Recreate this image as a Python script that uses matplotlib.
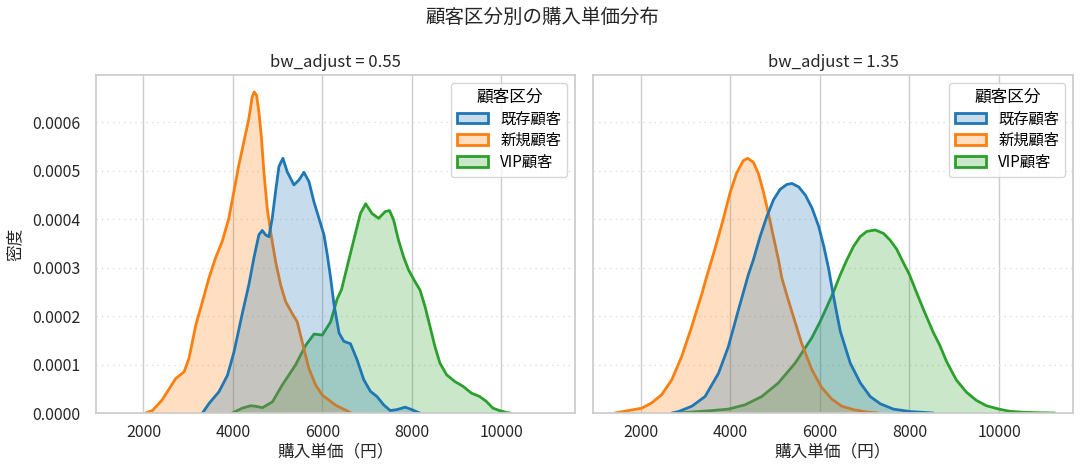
import matplotlib
matplotlib.use("Agg")
import matplotlib.pyplot as plt
from matplotlib.patches import Patch
from matplotlib.colors import to_rgba

plt.rcParams['font.family'] = ['Noto Sans CJK JP', 'DejaVu Sans']

# ---- data (density values, in units of 1e-4) ----
categories = ["既存顧客", "新規顧客", "VIP顧客"]
colors = ["#1f77b4", "#ff7f0e", "#2ca02c"]
panel_titles = ["bw_adjust = 0.55", "bw_adjust = 1.35"]

# Left panel (bw_adjust = 0.55)
exist_l_x = [3320, 3470, 3690, 3880, 4025, 4210, 4358, 4470, 4582, 4657, 4731, 4806, 4880,
             4955, 5030, 5119, 5216, 5365, 5477, 5589, 5701, 5813, 5925, 6037, 6111, 6186,
             6260, 6375, 6481, 6630, 6777, 6926, 7074, 7222, 7370, 7519, 7667, 7852, 8000,
             8148, 8185]
exist_l_y = [0, 0.20, 0.44, 0.78, 1.26, 2.05, 2.65, 3.20, 3.68, 3.77, 3.68, 3.64, 4.02,
             4.57, 5.09, 5.26, 4.98, 4.71, 4.81, 4.97, 4.78, 4.36, 4.02, 3.68, 3.27, 2.79,
             2.25, 1.65, 1.48, 1.43, 1.10, 0.69, 0.45, 0.34, 0.17, 0.05, 0.07, 0.12, 0.07,
             0.01, 0]
new_l_x = [2050, 2200, 2420, 2720, 2910, 3020, 3170, 3320, 3463, 3612, 3761, 3910, 4022,
           4134, 4246, 4358, 4433, 4477, 4530, 4582, 4634, 4694, 4768, 4843, 4955, 5067,
           5180, 5330, 5440, 5550, 5700, 5850, 6000, 6300, 6520, 6640]
new_l_y = [0, 0.05, 0.27, 0.71, 0.85, 1.13, 1.81, 2.30, 2.78, 3.20, 3.54, 4.02, 4.57,
           5.12, 5.60, 6.08, 6.53, 6.63, 6.56, 6.22, 5.74, 4.98, 4.23, 3.75, 3.13, 2.65,
           2.30, 2.05, 1.88, 1.47, 0.92, 0.58, 0.37, 0.16, 0.06, 0]
vip_l_x = [3990, 4210, 4400, 4500, 4660, 4885, 5105, 5400, 5630, 5815, 6000, 6185, 6330,
           6430, 6555, 6703, 6852, 6970, 7111, 7259, 7407, 7504, 7593, 7704, 7815, 7926,
           8074, 8185, 8296, 8407, 8519, 8630, 8778, 8963, 9148, 9334, 9519, 9667, 9815,
           9963, 10112, 10200]
vip_l_y = [0, 0.10, 0.15, 0.14, 0.11, 0.23, 0.58, 0.99, 1.40, 1.63, 1.61, 1.88, 2.35,
           2.55, 3.02, 3.57, 4.12, 4.32, 4.12, 4.02, 4.16, 4.18, 3.99, 3.57, 3.23, 2.96,
           2.71, 2.54, 2.20, 1.79, 1.37, 1.03, 0.79, 0.65, 0.55, 0.41, 0.34, 0.24, 0.10,
           0.05, 0.01, 0]

# Right panel (bw_adjust = 1.35)
exist_r_x = [2700, 2850, 3145, 3440, 3740, 3960, 4185, 4404, 4517, 4667, 4816, 4966, 5116,
             5266, 5378, 5528, 5678, 5828, 5977, 6090, 6202, 6265, 6370, 6460, 6680, 6905,
             7125, 7350, 7645, 8015, 8535]
exist_r_y = [0, 0.03, 0.14, 0.34, 0.82, 1.37, 2.13, 2.85, 3.16, 3.64, 4.05, 4.40, 4.62,
             4.72, 4.74, 4.67, 4.50, 4.23, 3.85, 3.44, 2.96, 2.62, 2.10, 1.68, 1.03, 0.62,
             0.34, 0.19, 0.08, 0.03, 0]
new_r_x = [1430, 1730, 2030, 2250, 2475, 2700, 2920, 3145, 3365, 3468, 3655, 3843, 3993,
           4142, 4292, 4390, 4517, 4629, 4742, 4854, 4966, 5079, 5153, 5260, 5375, 5595,
           5820, 6040, 6265, 6490, 6755, 7050, 7300]
new_r_y = [0, 0.05, 0.10, 0.21, 0.38, 0.69, 1.17, 1.79, 2.45, 2.79, 3.37, 3.99, 4.53,
           4.95, 5.21, 5.26, 5.18, 4.95, 4.57, 4.12, 3.64, 3.16, 2.79, 2.45, 2.10, 1.44,
           0.90, 0.53, 0.29, 0.14, 0.07, 0.02, 0]
vip_r_x = [2850, 3590, 3960, 4335, 4705, 5075, 5450, 5820, 6009, 6157, 6306, 6455, 6603,
           6752, 6900, 7049, 7235, 7420, 7569, 7718, 7829, 8000, 8163, 8312, 8535, 8677,
           8826, 8950, 9049, 9272, 9495, 9718, 10000, 10238, 10535, 10900, 11250]
vip_r_y = [0, 0.05, 0.08, 0.17, 0.34, 0.62, 1.03, 1.55, 1.89, 2.19, 2.50, 2.85, 3.16,
           3.44, 3.64, 3.75, 3.78, 3.71, 3.57, 3.38, 3.17, 2.86, 2.48, 2.14, 1.66, 1.40,
           1.07, 0.85, 0.68, 0.43, 0.26, 0.15, 0.08, 0.035, 0.015, 0.005, 0]

panels = [
    [(exist_l_x, exist_l_y), (new_l_x, new_l_y), (vip_l_x, vip_l_y)],
    [(exist_r_x, exist_r_y), (new_r_x, new_r_y), (vip_r_x, vip_r_y)],
]
xticks = [2000, 4000, 6000, 8000, 10000]
yticks = [0.0, 0.0001, 0.0002, 0.0003, 0.0004, 0.0005, 0.0006]

fig = plt.figure(figsize=(10.84, 4.72), dpi=100)
ax1 = fig.add_axes([96 / 1084, 1 - 413 / 472, (575 - 96) / 1084, (413 - 75) / 472])
ax2 = fig.add_axes([593 / 1084, 1 - 413 / 472, (1073 - 593) / 1084, (413 - 75) / 472],
                   sharex=ax1, sharey=ax1)

grid_c = "#cccccc"
for i, ax in enumerate([ax1, ax2]):
    ax.set_facecolor("white")
    for s in ax.spines.values():
        s.set_color(grid_c)
        s.set_linewidth(1.25)
    ax.set_axisbelow(True)
    ax.grid(axis="x", color=grid_c, linewidth=1.0, linestyle="-")
    ax.grid(axis="y", color="#dddddd", linewidth=1.0, linestyle=(0, (1, 3)))
    ax.tick_params(length=0, labelsize=11.5, colors="#262626")
    ax.tick_params(axis="x", pad=8)
    ax.tick_params(axis="y", pad=11)
    # draw in reverse hue order (like seaborn)
    for k in [2, 1, 0]:
        xs, ys = panels[i][k]
        yv = [v * 1e-4 for v in ys]
        c = colors[k]
        ax.fill_between(xs, 0, yv, facecolor=to_rgba(c, 0.25), linewidth=0, zorder=1)
        ax.plot(xs, yv, color=c, linewidth=2.0, zorder=1, solid_capstyle="round",
                solid_joinstyle="round")
    ax.set_title(panel_titles[i], fontsize=12, color="#262626", pad=6)
    ax.set_xlabel("購入単価（円）", fontsize=12, color="#262626", labelpad=2)
    handles = [Patch(facecolor=to_rgba(colors[k], 0.25), edgecolor=colors[k], linewidth=2,
                     label=categories[k]) for k in range(3)]
    leg = ax.legend(handles=handles, title="顧客区分", loc="upper right", fontsize=11,
                    title_fontsize=12, frameon=True, borderaxespad=0.5,
                    handlelength=2.0, handletextpad=0.8, labelspacing=0.3)
    leg.get_frame().set_edgecolor("#cccccc")

ax1.set_xlim(940, 11650)
ax1.set_ylim(0, 0.000698)
ax1.set_xticks(xticks)
ax1.set_yticks(yticks)
ax1.set_yticklabels([f"{v:.4f}" for v in yticks])
ax1.set_ylabel("密度", fontsize=12, color="#262626", labelpad=6)
ax2.tick_params(labelleft=False)

fig.suptitle("顧客区分別の購入単価分布", fontsize=14, color="#262626", y=0.985)

fig.savefig("out.png", dpi=100)
